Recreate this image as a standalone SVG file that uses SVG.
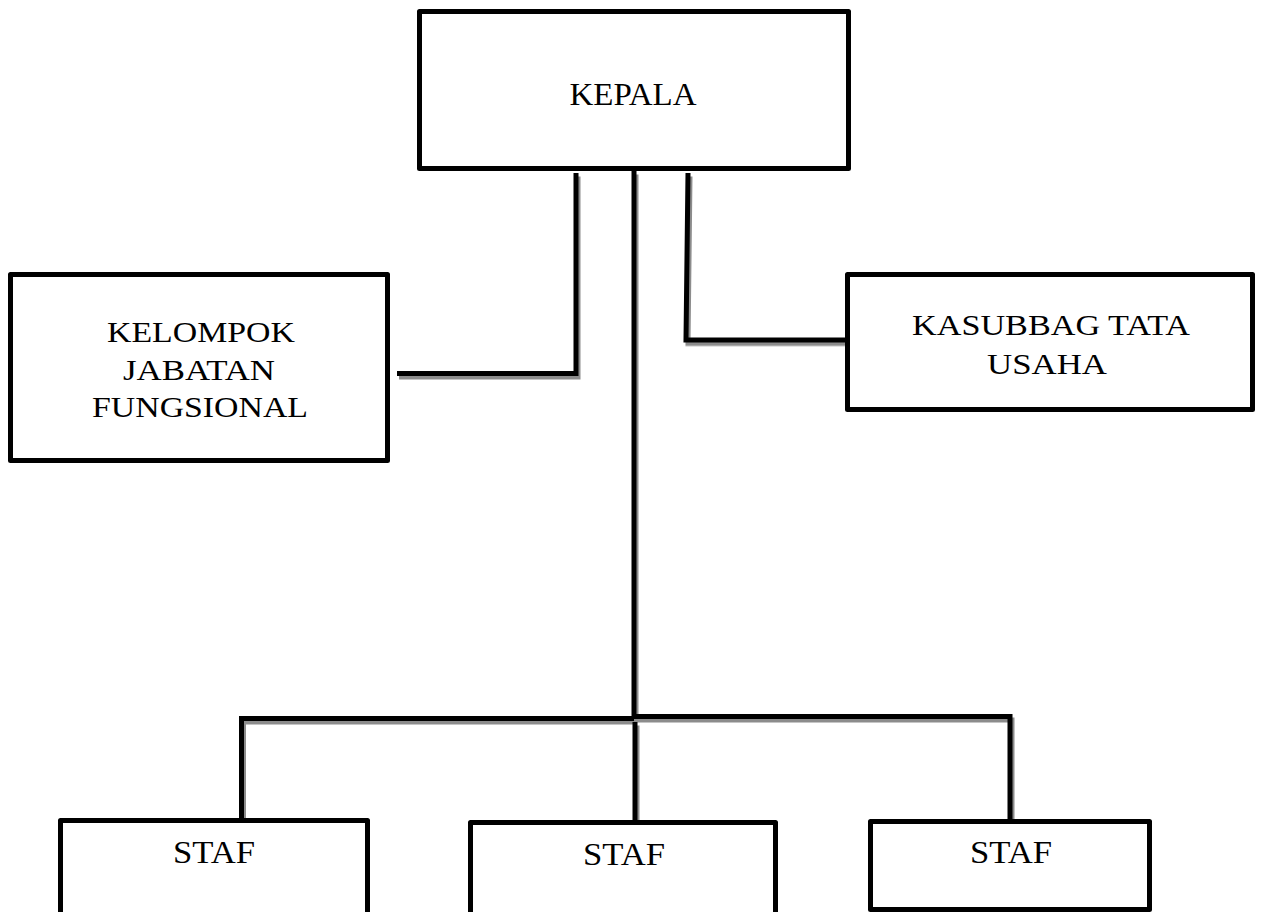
<svg xmlns="http://www.w3.org/2000/svg" width="1261" height="912" viewBox="0 0 1261 912">
  <defs>
    <filter id="sh" x="-20%" y="-20%" width="140%" height="140%">
      <feDropShadow dx="2" dy="3.5" stdDeviation="0.6" flood-color="#000" flood-opacity="0.45"/>
    </filter>
    <style>
      .box { fill: #fff; stroke: #000; stroke-width: 5; stroke-linejoin: round; }
      .lbl { font-family: "Liberation Serif", "Times New Roman", serif; font-size: 30px; fill: #000; text-anchor: middle; }
      .staf { font-size: 32px; }
      .con { fill: none; stroke: #000; stroke-width: 5; stroke-linejoin: miter; }
    </style>
  </defs>
  <rect width="1261" height="912" fill="#fff"/>

  <g id="connectors" filter="url(#sh)">
    <path class="con" d="M 397 373.5 H 576 V 173"/>
    <path class="con" d="M 634 171 V 717"/>
    <path class="con" d="M 688 173 L 686 340 H 845"/>
    <path class="con" d="M 241.5 818 V 718.5 H 634"/>
    <path class="con" d="M 634 716.5 H 1010 V 819"/>
    <path class="con" d="M 635 722 V 820"/>
  </g>

  <g id="kepala">
    <rect class="box" x="419.5" y="11.5" width="429" height="157"/>
    <text class="lbl" x="633" y="105" textLength="127" lengthAdjust="spacingAndGlyphs" style="font-size:32px">KEPALA</text>
  </g>

  <g id="kelompok">
    <rect class="box" x="10.5" y="274.5" width="377" height="186"/>
    <text class="lbl" x="201" y="342" textLength="188" lengthAdjust="spacingAndGlyphs">KELOMPOK</text>
    <text class="lbl" x="199" y="379.5" textLength="152" lengthAdjust="spacingAndGlyphs">JABATAN</text>
    <text class="lbl" x="200" y="417" textLength="216" lengthAdjust="spacingAndGlyphs">FUNGSIONAL</text>
  </g>

  <g id="kasubbag">
    <rect class="box" x="847.5" y="274.5" width="405" height="135"/>
    <text class="lbl" x="1051" y="335" textLength="278" lengthAdjust="spacingAndGlyphs">KASUBBAG TATA</text>
    <text class="lbl" x="1047" y="374" textLength="120" lengthAdjust="spacingAndGlyphs">USAHA</text>
  </g>

  <g id="staf1">
    <rect class="box" x="60.5" y="820.5" width="307" height="130"/>
    <text class="lbl staf" x="214" y="863" textLength="82" lengthAdjust="spacingAndGlyphs">STAF</text>
  </g>

  <g id="staf2">
    <rect class="box" x="470.5" y="822.5" width="305" height="130"/>
    <text class="lbl staf" x="624" y="865" textLength="82" lengthAdjust="spacingAndGlyphs">STAF</text>
  </g>

  <g id="staf3">
    <rect class="box" x="870.5" y="821.5" width="279" height="88"/>
    <text class="lbl staf" x="1011" y="863" textLength="82" lengthAdjust="spacingAndGlyphs">STAF</text>
  </g>
</svg>
